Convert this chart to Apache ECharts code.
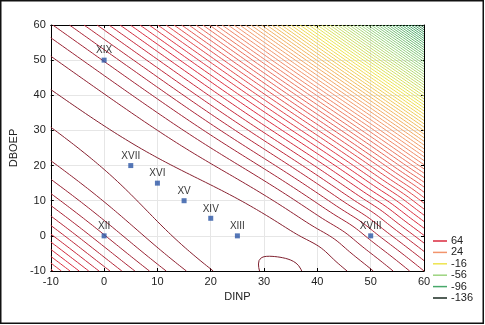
<!DOCTYPE html>
<html><head><meta charset="utf-8">
<script src="https://cdn.jsdelivr.net/npm/echarts@6/dist/echarts.min.js"></script>
<style>html,body{margin:0;padding:0;background:#fff}#c{width:485px;height:325px}</style>
</head><body><div id="c"></div>
<script>
// ---- axis ticks ----
const xTicks = [-10, 0, 10, 20, 30, 40, 50, 60];
const yTicks = [-10, 0, 10, 20, 30, 40, 50, 60];
// ---- design points ----
const pointNames = ['XIX', 'XVII', 'XVI', 'XV', 'XIV', 'XIII', 'XII', 'XVIII'];
const pointDINP  = [0, 5, 10, 15, 20, 25, 0, 50];
const pointDBOEP = [50, 20, 15, 10, 5, 0, 0, 0];
// ---- legend levels ----
const legendLevels = [64, 24, -16, -56, -96, -136];
// ---- contour levels ----
const levelStep = 40 / 14;
const levelTop = 64 + 10 * levelStep;
const levelCount = 80;
// ---- fitted response surface ----
const surfCenter = [33, -10];            // summit of the ridge (DINP, DBOEP)
const surfAxis = [-0.68, 0.733];         // ridge direction
const crossCoef = [0.0105, 0.000075];    // fall-off across the ridge (w^2, |w|^3)
const ridgeRise = [0.9, 26, 8];          // fall-off along the ridge toward low DINP (height, mid, width)
const ridgeBack = 0.001;                 // fall-off along the ridge toward high DINP
const summitBump = [0.15, 4];            // small summit near the centre

function levelIndex(x, y) {
  const dx = x - surfCenter[0], dy = y - surfCenter[1];
  const u = surfAxis[0] * dx + surfAxis[1] * dy;
  const w = surfAxis[1] * dx - surfAxis[0] * dy;
  const aw = Math.abs(w);
  let along = ridgeRise[0] / (1 + Math.exp(-(u - ridgeRise[1]) / ridgeRise[2]))
            - ridgeRise[0] / (1 + Math.exp(ridgeRise[1] / ridgeRise[2]))
            - summitBump[0] * Math.exp(-Math.pow(u / summitBump[1], 2));
  if (u < 0) along += ridgeBack * u * u;
  return along + crossCoef[0] * w * w + crossCoef[1] * aw * aw * aw;
}
function surfaceValue(x, y) { return levelTop - levelStep * levelIndex(x, y); }

// ---- grid + marching squares ----
const G = 0.5, X0 = -10, NX = Math.round(70 / G) + 1;
const Z = new Float64Array(NX * NX);
for (let j = 0; j < NX; j++) for (let i = 0; i < NX; i++) Z[j * NX + i] = surfaceValue(X0 + i * G, X0 + j * G);

function contourLines(level) {
  const pts = new Map(), adj = new Map();
  const above = v => v >= level;
  function ep(id, i1, j1, i2, j2) {
    if (!pts.has(id)) {
      const z1 = Z[j1 * NX + i1], z2 = Z[j2 * NX + i2];
      const t = (level - z1) / (z2 - z1);
      const x1 = X0 + i1 * G, y1 = X0 + j1 * G, x2 = X0 + i2 * G, y2 = X0 + j2 * G;
      pts.set(id, [x1 + (x2 - x1) * t, y1 + (y2 - y1) * t]);
    }
    return id;
  }
  function link(a, b) {
    if (!adj.has(a)) adj.set(a, []);
    if (!adj.has(b)) adj.set(b, []);
    adj.get(a).push(b); adj.get(b).push(a);
  }
  for (let j = 0; j < NX - 1; j++) for (let i = 0; i < NX - 1; i++) {
    const z00 = Z[j * NX + i], z10 = Z[j * NX + i + 1], z01 = Z[(j + 1) * NX + i], z11 = Z[(j + 1) * NX + i + 1];
    const a00 = above(z00), a10 = above(z10), a01 = above(z01), a11 = above(z11);
    const B = a00 !== a10 ? ep(2 * (j * NX + i), i, j, i + 1, j) : -1;
    const R = a10 !== a11 ? ep(2 * (j * NX + i + 1) + 1, i + 1, j, i + 1, j + 1) : -1;
    const T = a01 !== a11 ? ep(2 * ((j + 1) * NX + i), i, j + 1, i + 1, j + 1) : -1;
    const L = a00 !== a01 ? ep(2 * (j * NX + i) + 1, i, j, i, j + 1) : -1;
    const list = [B, R, T, L].filter(v => v >= 0);
    if (list.length === 2) link(list[0], list[1]);
    else if (list.length === 4) {
      const c = above((z00 + z10 + z01 + z11) / 4);
      if (c === a00) { link(B, R); link(T, L); } else { link(L, B); link(R, T); }
    }
  }
  const used = new Set(), lines = [];
  function walk(start) {
    const line = [pts.get(start)]; used.add(start);
    let cur = start;
    while (true) {
      const nb = adj.get(cur); let next = -1;
      for (const n of nb) if (!used.has(n)) { next = n; break; }
      if (next < 0) {
        if (cur !== start && nb.includes(start) && line.length > 2) line.push(pts.get(start));
        break;
      }
      used.add(next); line.push(pts.get(next)); cur = next;
    }
    return line;
  }
  for (const [id, nb] of adj) if (nb.length === 1 && !used.has(id)) lines.push(walk(id));
  for (const [id] of adj) if (!used.has(id)) lines.push(walk(id));
  return lines;
}

// ---- colours ----
const colorStops = [[92, '#7e1f2e'], [64, '#da2a3e'], [24, '#f2946c'], [-16, '#eee44e'],
                    [-56, '#9cd480'], [-96, '#48a86a'], [-136, '#182820']];
function hex2rgb(h) { return [1, 3, 5].map(k => parseInt(h.substr(k, 2), 16)); }
function levelColor(v) {
  if (v >= colorStops[0][0]) return colorStops[0][1];
  for (let i = 0; i < colorStops.length - 1; i++) {
    const [v1, c1] = colorStops[i], [v2, c2] = colorStops[i + 1];
    if (v <= v1 && v >= v2) {
      const t = (v1 - v) / (v1 - v2), a = hex2rgb(c1), b = hex2rgb(c2);
      return 'rgb(' + a.map((q, k) => Math.round(q + (b[k] - q) * t)).join(',') + ')';
    }
  }
  return colorStops[colorStops.length - 1][1];
}

// ---- series ----
const series = [];
for (let k = 0; k < levelCount; k++) {
  const level = levelTop - k * levelStep;
  const lines = contourLines(level);
  if (!lines.length) continue;
  const data = [];
  lines.forEach((ln, idx) => { if (idx) data.push(['-', '-']); ln.forEach(p => data.push(p)); });
  series.push({
    type: 'line', name: 'L' + k, data: data, showSymbol: false, symbol: 'none',
    connectNulls: false, silent: true, animation: false, clip: true, z: 2,
    lineStyle: { width: 1, color: levelColor(level) }
  });
}
series.push({
  type: 'scatter', name: 'points', z: 5, silent: true, animation: false,
  data: pointDINP.map((x, i) => [x, pointDBOEP[i], pointNames[i]]),
  symbol: 'rect', symbolSize: 5, itemStyle: { color: '#2b55a5' },
  label: { show: true, position: 'top', distance: 2, formatter: p => p.data[2],
           fontSize: 10, fontFamily: 'Arial', color: '#000' }
});

const font = 'Arial';
function axisCommon(pos, isX) {
  const ticks = isX ? xTicks : yTicks;
  return {
    type: 'value', min: ticks[0], max: ticks[ticks.length - 1], interval: ticks[1] - ticks[0],
    position: pos,
    axisLine: { show: true, onZero: false, lineStyle: { color: '#000', width: 1 } },
    axisTick: { show: true, inside: true, length: 3, lineStyle: { color: '#000' } },
    splitLine: { show: false }
  };
}
const xMain = Object.assign(axisCommon('bottom', true), {
  name: 'DINP', nameLocation: 'middle', nameGap: 14,
  nameTextStyle: { fontSize: 11, color: '#222', fontFamily: font },
  axisLabel: { fontSize: 11, color: '#222', margin: 5, fontFamily: font },
  splitLine: { show: true, lineStyle: { color: '#e6e6e6', width: 1 } }
});
const xTop = Object.assign(axisCommon('top', true), { axisLabel: { show: false } });
const yMain = Object.assign(axisCommon('left', false), {
  name: 'DBOEP', nameLocation: 'middle', nameGap: 17,
  nameTextStyle: { fontSize: 11, color: '#222', fontFamily: font },
  axisLabel: { fontSize: 11, color: '#222', margin: 5, fontFamily: font },
  splitLine: { show: true, lineStyle: { color: '#e6e6e6', width: 1 } }
});
const yRight = Object.assign(axisCommon('right', false), { axisLabel: { show: false } });

// ---- frame + legend ----
const graphic = [{
  type: 'rect', shape: { x: 0.75, y: 0.75, width: 482.5, height: 322.5 },
  style: { fill: 'none', stroke: '#111', lineWidth: 1.5 }, silent: true
}];
legendLevels.forEach((lv, i) => {
  const yy = 241 + i * 11.4;
  graphic.push({ type: 'line', shape: { x1: 433, y1: yy, x2: 447, y2: yy },
                 style: { stroke: levelColor(lv), lineWidth: 1.5 }, silent: true });
  graphic.push({ type: 'text', x: 451, y: yy,
                 style: { text: String(lv), fill: '#222', font: '11px Arial', verticalAlign: 'middle' }, silent: true });
});

const chart = echarts.init(document.getElementById('c'));
chart.setOption({
  animation: false,
  backgroundColor: '#fff',
  grid: { left: 43, right: 61, top: 25, bottom: 54, show: false },
  xAxis: [xMain, xTop],
  yAxis: [yMain, yRight],
  series: series,
  graphic: graphic
});
</script>
</body></html>
